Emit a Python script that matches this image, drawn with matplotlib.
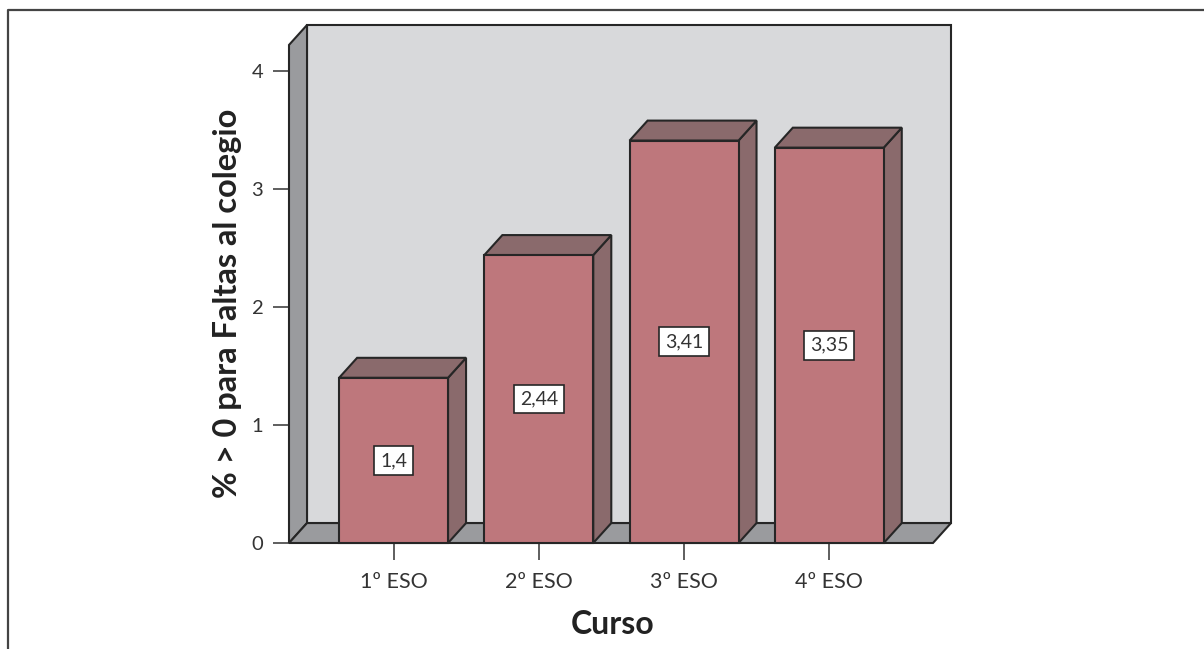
import matplotlib.pyplot as plt
from matplotlib.patches import Polygon, Rectangle
from matplotlib.lines import Line2D

plt.rcParams['font.family'] = ['Lato', 'DejaVu Sans']

# Data
cursos = ['1º ESO', '2º ESO', '3º ESO', '4º ESO']
valores = [1.40, 2.44, 3.41, 3.35]
etiquetas = ['1,4', '2,44', '3,41', '3,35']
y_ticks = [0, 1, 2, 3, 4]

# 3D look
DX, DY = 0.124, 0.169      # depth offset in data units
BAR_W = 0.75
X_LEFT, X_RIGHT, Y_TOP = -0.72, 3.714, 4.22

WALL = '#d8d9db'
SIDE = '#9a9b9e'
BAR_FRONT = '#be777c'
BAR_DARK = '#8a6a6c'
EDGE = '#262626'

fig = plt.figure(figsize=(12.04, 6.49), dpi=100)
ax = fig.add_axes([289 / 1204, 106 / 649, 662 / 1204, 518 / 649])
ax.set_xlim(X_LEFT, X_RIGHT + DX)
ax.set_ylim(0, Y_TOP + DY)
ax.set_facecolor('none')
for s in ax.spines.values():
    s.set_visible(False)

lw = 1.5
# back wall
ax.add_patch(Rectangle((X_LEFT + DX, DY), X_RIGHT - X_LEFT, Y_TOP, facecolor=WALL,
                       edgecolor=EDGE, lw=lw, zorder=1, clip_on=False))
# side wall
ax.add_patch(Polygon([(X_LEFT, 0), (X_LEFT + DX, DY), (X_LEFT + DX, Y_TOP + DY), (X_LEFT, Y_TOP)],
                     facecolor=SIDE, edgecolor=EDGE, lw=lw, zorder=2, clip_on=False))
# floor
ax.add_patch(Polygon([(X_LEFT, 0), (X_RIGHT, 0), (X_RIGHT + DX, DY), (X_LEFT + DX, DY)],
                     facecolor=SIDE, edgecolor=EDGE, lw=lw, zorder=2, clip_on=False))

for i, (v, lab) in enumerate(zip(valores, etiquetas)):
    x0, x1 = i - BAR_W / 2, i + BAR_W / 2
    ax.add_patch(Polygon([(x1, 0), (x1 + DX, DY), (x1 + DX, v + DY), (x1, v)],
                         facecolor=BAR_DARK, edgecolor=EDGE, lw=lw, zorder=3, clip_on=False))
    ax.add_patch(Polygon([(x0, v), (x0 + DX, v + DY), (x1 + DX, v + DY), (x1, v)],
                         facecolor=BAR_DARK, edgecolor=EDGE, lw=lw, zorder=3, clip_on=False))
    ax.add_patch(Rectangle((x0, 0), BAR_W, v, facecolor=BAR_FRONT, edgecolor=EDGE,
                           lw=lw, zorder=4, clip_on=False))
    ax.text(i, v / 2, lab, ha='center', va='center', fontsize=14, color='#333333', zorder=6,
            bbox=dict(boxstyle='square,pad=0.3', facecolor='white', edgecolor=EDGE, lw=1.2))

ax.set_yticks(y_ticks)
ax.set_yticklabels([str(t) for t in y_ticks])
ax.set_xticks(range(len(cursos)))
ax.set_xticklabels(cursos)
ax.tick_params(axis='y', length=11.5, width=1.1, pad=7, labelsize=14.5, colors='#333333')
ax.tick_params(axis='x', length=12.2, width=1.1, pad=9, labelsize=15.5, colors='#333333')

ax.set_xlabel('Curso', fontsize=23, fontweight='bold', color='#222222')
ax.set_ylabel('% > 0 para Faltas al colegio', fontsize=23.5, fontweight='bold', color='#222222')
ax.xaxis.set_label_coords((613 - 289) / 662, -(610 - 543) / 518)
ax.yaxis.set_label_coords(-(289 - 242) / 662, (543 - 303) / 518)

# outer frame
fig.add_artist(Line2D([8 / 1204, 8 / 1204, 1.0], [0, 1 - 10 / 649, 1 - 10 / 649],
                      color='#444444', lw=1.6, transform=fig.transFigure))

fig.savefig('out.png', dpi=100)
